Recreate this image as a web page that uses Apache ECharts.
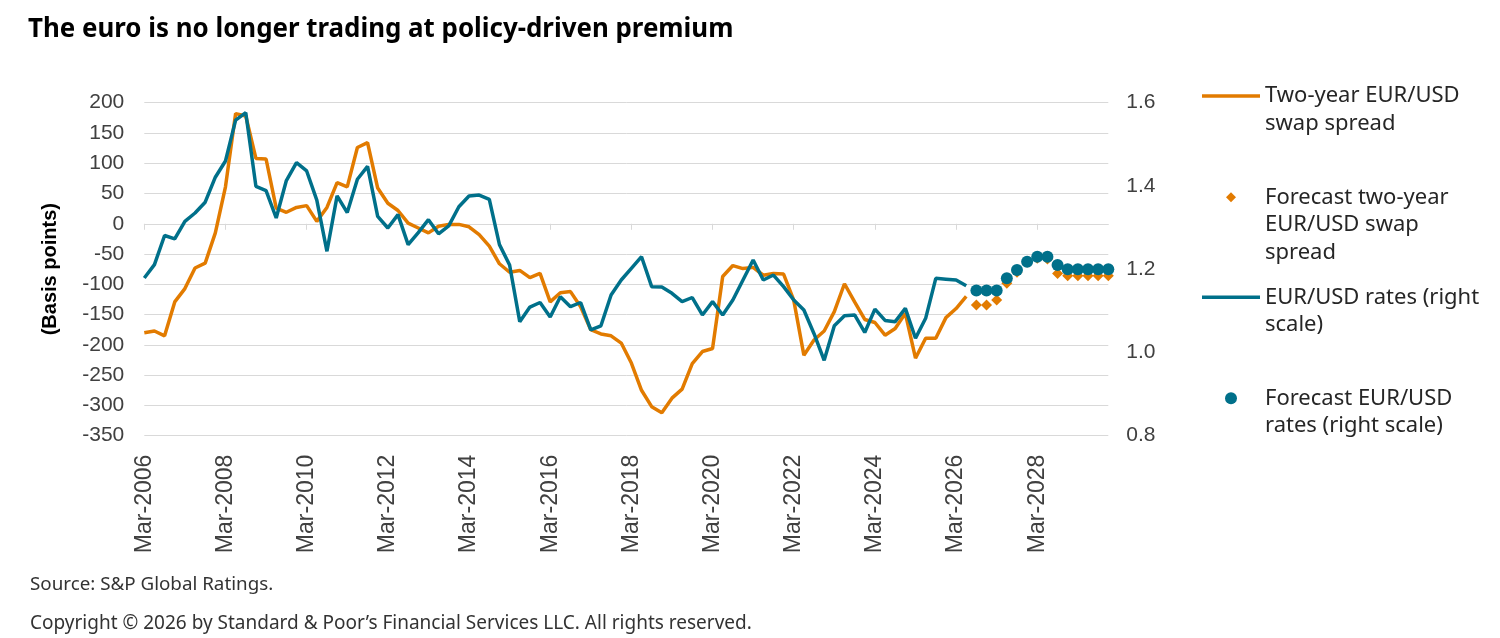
<!DOCTYPE html>
<html><head><meta charset="utf-8">
<script src="https://cdn.jsdelivr.net/npm/echarts@6/dist/echarts.min.js"></script>
<style>html,body{margin:0;padding:0;background:#fff}#c{width:1500px;height:638px}</style>
</head><body><div id="c"></div>
<script>
const categories = [
"Mar-2006","Jun-2006","Sep-2006","Dec-2006","Mar-2007","Jun-2007","Sep-2007","Dec-2007",
"Mar-2008","Jun-2008","Sep-2008","Dec-2008","Mar-2009","Jun-2009","Sep-2009","Dec-2009",
"Mar-2010","Jun-2010","Sep-2010","Dec-2010","Mar-2011","Jun-2011","Sep-2011","Dec-2011",
"Mar-2012","Jun-2012","Sep-2012","Dec-2012","Mar-2013","Jun-2013","Sep-2013","Dec-2013",
"Mar-2014","Jun-2014","Sep-2014","Dec-2014","Mar-2015","Jun-2015","Sep-2015","Dec-2015",
"Mar-2016","Jun-2016","Sep-2016","Dec-2016","Mar-2017","Jun-2017","Sep-2017","Dec-2017",
"Mar-2018","Jun-2018","Sep-2018","Dec-2018","Mar-2019","Jun-2019","Sep-2019","Dec-2019",
"Mar-2020","Jun-2020","Sep-2020","Dec-2020","Mar-2021","Jun-2021","Sep-2021","Dec-2021",
"Mar-2022","Jun-2022","Sep-2022","Dec-2022","Mar-2023","Jun-2023","Sep-2023","Dec-2023",
"Mar-2024","Jun-2024","Sep-2024","Dec-2024","Mar-2025","Jun-2025","Sep-2025","Dec-2025",
"Mar-2026","Jun-2026","Sep-2026","Dec-2026","Mar-2027","Jun-2027","Sep-2027","Dec-2027",
"Mar-2028","Jun-2028","Sep-2028","Dec-2028","Mar-2029","Jun-2029","Sep-2029","Dec-2029"
];

// Two-year EUR/USD swap spread (basis points), Mar-2006 .. Jun-2026
const swapSpread = [
-180,-177,-185,-129,-107,-73,-65,-15,
61,182,178,108,107,26,19,27,
30,4,27,68,61,126,134,59,
34,22,1,-7,-15,-4,-1,-1,
-5,-18,-37,-66,-80,-77,-89,-82,
-129,-114,-112,-137,-175,-182,-185,-197,
-230,-275,-302,-312,-288,-273,-231,-211,
-206,-87,-69,-74,-72,-85,-82,-83,
-126,-217,-192,-177,-145,-99,-129,-158,
-163,-184,-173,-148,-222,-189,-189,-155,
-140,-120
];
// Forecast two-year EUR/USD swap spread, Sep-2026 .. Dec-2029
const swapForecast = [-134,-134,-126,-98,-80,-63,-57,-58,-82,-86,-86,-86,-86,-86];

// EUR/USD rates (right scale), Mar-2006 .. Jun-2026
const eurusd = [
1.179,1.211,1.281,1.273,1.315,1.335,1.361,1.421,
1.460,1.558,1.576,1.399,1.389,1.323,1.413,1.456,
1.436,1.366,1.243,1.376,1.336,1.416,1.447,1.327,
1.299,1.331,1.259,1.288,1.319,1.285,1.304,1.350,
1.376,1.378,1.368,1.259,1.210,1.074,1.109,1.120,
1.085,1.134,1.110,1.120,1.054,1.064,1.138,1.174,
1.202,1.230,1.158,1.157,1.142,1.122,1.132,1.090,
1.122,1.090,1.126,1.174,1.222,1.174,1.186,1.158,
1.126,1.102,1.045,0.981,1.064,1.088,1.090,1.048,
1.104,1.077,1.074,1.106,1.034,1.082,1.178,1.176,
1.174,1.160
];
// Forecast EUR/USD rates, Sep-2026 .. Dec-2029
const eurusdForecast = [1.149,1.149,1.149,1.178,1.198,1.218,1.230,1.230,1.210,1.200,1.200,1.200,1.200,1.200];

const names = {
  s1: "Two-year EUR/USD swap spread",
  s2: "Forecast two-year EUR/USD swap spread",
  s3: "EUR/USD rates (right scale)",
  s4: "Forecast EUR/USD rates (right scale)"
};
const legendLines = {};
legendLines[names.s1] = ["Two-year EUR/USD", "swap spread"];
legendLines[names.s2] = ["Forecast two-year", "EUR/USD swap", "spread"];
legendLines[names.s3] = ["EUR/USD rates (right", "scale)"];
legendLines[names.s4] = ["Forecast EUR/USD", "rates (right scale)"];

const ORANGE = "#E27B00";
const TEAL = "#00708A";
const TXT = "#262626";
const AXF = "Liberation Sans, Arial, sans-serif";
const LGF = "Noto Sans, sans-serif";

const nActual = swapSpread.length;
const padBefore = (arr, n) => new Array(n).fill(null).concat(arr);
const padAfter = (arr, total) => arr.concat(new Array(total - arr.length).fill(null));

function legendFormatter(name) {
  const lines = legendLines[name];
  // leading empty lines keep the icon aligned with the first text line
  return new Array(lines.length - 1).fill("").concat(lines).join("\n");
}
function mkLegend(name, top, w, h, icon) {
  const d = { name: name };
  if (icon) d.icon = icon;
  return {
    data: [d], orient: "vertical", left: 1202, top: top, padding: 0,
    itemWidth: w, itemHeight: h, selectedMode: false,
    formatter: legendFormatter,
    textStyle: { fontFamily: LGF, fontSize: 22, lineHeight: 27.5, color: TXT }
  };
}

const chart = echarts.init(document.getElementById("c"), null, { renderer: "canvas" });
chart.setOption({
  animation: false,
  backgroundColor: "#ffffff",
  title: [
    { text: "The euro is no longer trading at policy-driven premium", left: 23, top: 12,
      textStyle: { fontFamily: LGF, fontWeight: "bold", fontSize: 25.9, color: "#000" } },
    { text: "Source: S&P Global Ratings.", left: 25, top: 570,
      textStyle: { fontFamily: LGF, fontWeight: "normal", fontSize: 18.8, color: "#333" } },
    { text: "Copyright © 2026 by Standard & Poor’s Financial Services LLC. All rights reserved.", left: 25, top: 609,
      textStyle: { fontFamily: LGF, fontWeight: "normal", fontSize: 19, color: "#333" } }
  ],
  legend: [
    mkLegend(names.s1, 96 - 41.25, 58, 3.5, "rect"),
    mkLegend(names.s2, 197.3 - 68.75, 58, 12.5),
    mkLegend(names.s3, 297.3 - 41.25, 58, 3.5, "rect"),
    mkLegend(names.s4, 398.3 - 41.25, 58, 15)
  ],
  grid: { left: 144.3, right: 391.7, top: 102.7, bottom: 202.3, containLabel: false, outerBoundsMode: "none" },
  xAxis: [
    { type: "category", data: categories, boundaryGap: false, position: "bottom",
      axisLine: { show: false, onZero: false }, axisTick: { show: false }, splitLine: { show: false },
      axisLabel: { interval: 7, rotate: 90, margin: 19, fontFamily: AXF, fontSize: 23, color: "#404040" } },
    { type: "category", data: categories, boundaryGap: false, position: "top",
      axisLine: { show: true, onZero: true, onZeroAxisIndex: 0, lineStyle: { color: "#d9d9d9", width: 1 } },
      axisTick: { show: true, inside: true, interval: 7, length: 6, lineStyle: { color: "#d9d9d9", width: 1 } },
      axisLabel: { show: false }, splitLine: { show: false } }
  ],
  yAxis: [
    { type: "value", min: -350, max: 200, interval: 50, position: "left",
      name: "(Basis points)", nameLocation: "middle", nameRotate: 90, nameGap: 84,
      nameTextStyle: { fontFamily: AXF, fontWeight: "bold", fontSize: 20, color: "#000" },
      axisLine: { show: false }, axisTick: { show: false },
      splitLine: { show: true, lineStyle: { color: "#d9d9d9", width: 1 } },
      axisLabel: { margin: 20, fontFamily: AXF, fontSize: 21, color: "#404040" } },
    { type: "value", min: 0.8, max: 1.6, interval: 0.2, position: "right",
      axisLine: { show: false }, axisTick: { show: false }, splitLine: { show: false },
      axisLabel: { margin: 18, fontFamily: AXF, fontSize: 21, color: "#404040",
        formatter: v => v.toFixed(1) } }
  ],
  series: [
    { name: names.s1, type: "line", xAxisIndex: 0, yAxisIndex: 0,
      data: padAfter(swapSpread, categories.length), showSymbol: false, symbol: "none",
      color: ORANGE, lineStyle: { color: ORANGE, width: 3.5 }, z: 2 },
    { name: names.s2, type: "line", xAxisIndex: 0, yAxisIndex: 0,
      data: padBefore(swapForecast, nActual), symbol: "diamond", symbolSize: 11,
      showSymbol: true, showAllSymbol: true,
      color: ORANGE, itemStyle: { color: ORANGE }, lineStyle: { opacity: 0, width: 0 }, z: 3 },
    { name: names.s3, type: "line", xAxisIndex: 0, yAxisIndex: 1,
      data: padAfter(eurusd, categories.length), showSymbol: false, symbol: "none",
      color: TEAL, lineStyle: { color: TEAL, width: 3.5 }, z: 4 },
    { name: names.s4, type: "line", xAxisIndex: 0, yAxisIndex: 1,
      data: padBefore(eurusdForecast, nActual), symbol: "circle", symbolSize: 12,
      showSymbol: true, showAllSymbol: true,
      color: TEAL, itemStyle: { color: TEAL }, lineStyle: { opacity: 0, width: 0 }, z: 5 }
  ]
});
</script>
</body></html>
